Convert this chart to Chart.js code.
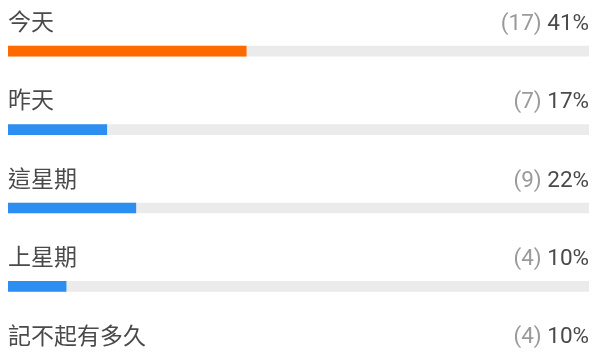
<!DOCTYPE html>
<html>
<head>
<meta charset="utf-8">
<script src="https://cdn.jsdelivr.net/npm/chart.js@4"></script>
<style>
  html, body { margin: 0; padding: 0; background: #fff; overflow: hidden; }
  #wrap { width: 593px; height: 404px; }
</style>
</head>
<body>
<div id="wrap"><canvas id="poll" width="593" height="404"></canvas></div>
<script>
// ── DATA ──────────────────────────────────────────────────────────────────
const categories = ['今天', '昨天', '這星期', '上星期', '記不起有多久'];
const counts     = [17, 7, 9, 4, 4];
const percents   = [41, 17, 22, 10, 10];
const trackFull  = [100, 100, 100, 100, 100];

const barColors = ['#ff6a00', '#2b8ef0', '#2b8ef0', '#2b8ef0', '#ffc21a'];
const FONT = "Roboto, 'Noto Sans CJK TC', sans-serif";

// row texts: label on the left, (count) percent on the right
const rowText = {
  id: 'rowText',
  afterDatasetsDraw(chart) {
    const ctx  = chart.ctx;
    const area = chart.chartArea;
    const y    = chart.scales.y;
    ctx.save();
    ctx.textBaseline = 'middle';
    categories.forEach(function(cat, i) {
      const ty = y.getPixelForValue(i) - 27;
      ctx.font = '23px ' + FONT;
      ctx.textAlign = 'left';
      ctx.fillStyle = '#4a4a4a';
      ctx.fillText(cat, area.left, ty);

      ctx.font = '22.5px ' + FONT;
      const pct = ' ' + percents[i] + '%';
      ctx.textAlign = 'right';
      ctx.fillStyle = '#4a4a4a';
      ctx.fillText(pct, area.right, ty);
      const w = ctx.measureText(pct).width;
      ctx.fillStyle = '#9a9a9a';
      ctx.fillText('(' + counts[i] + ')', area.right - w, ty);
    });
    ctx.restore();
  }
};

new Chart(document.getElementById('poll'), {
  type: 'bar',
  data: {
    labels: categories,
    datasets: [
      {
        data:            percents,
        backgroundColor: barColors,
        barThickness:    10,
        grouped:         false,
        order:           0
      },
      {
        data:            trackFull,
        backgroundColor: '#ebebeb',
        barThickness:    10,
        grouped:         false,
        order:           1
      }
    ]
  },
  options: {
    indexAxis:  'y',
    responsive: false,
    animation:  false,
    layout: { padding: { left: 8, right: 4, top: 12, bottom: 0 } },
    plugins: {
      legend:  { display: false },
      tooltip: { enabled: false }
    },
    scales: {
      x: { display: false, min: 0, max: 100 },
      y: { display: false }
    }
  },
  plugins: [rowText]
});
</script>
</body>
</html>
